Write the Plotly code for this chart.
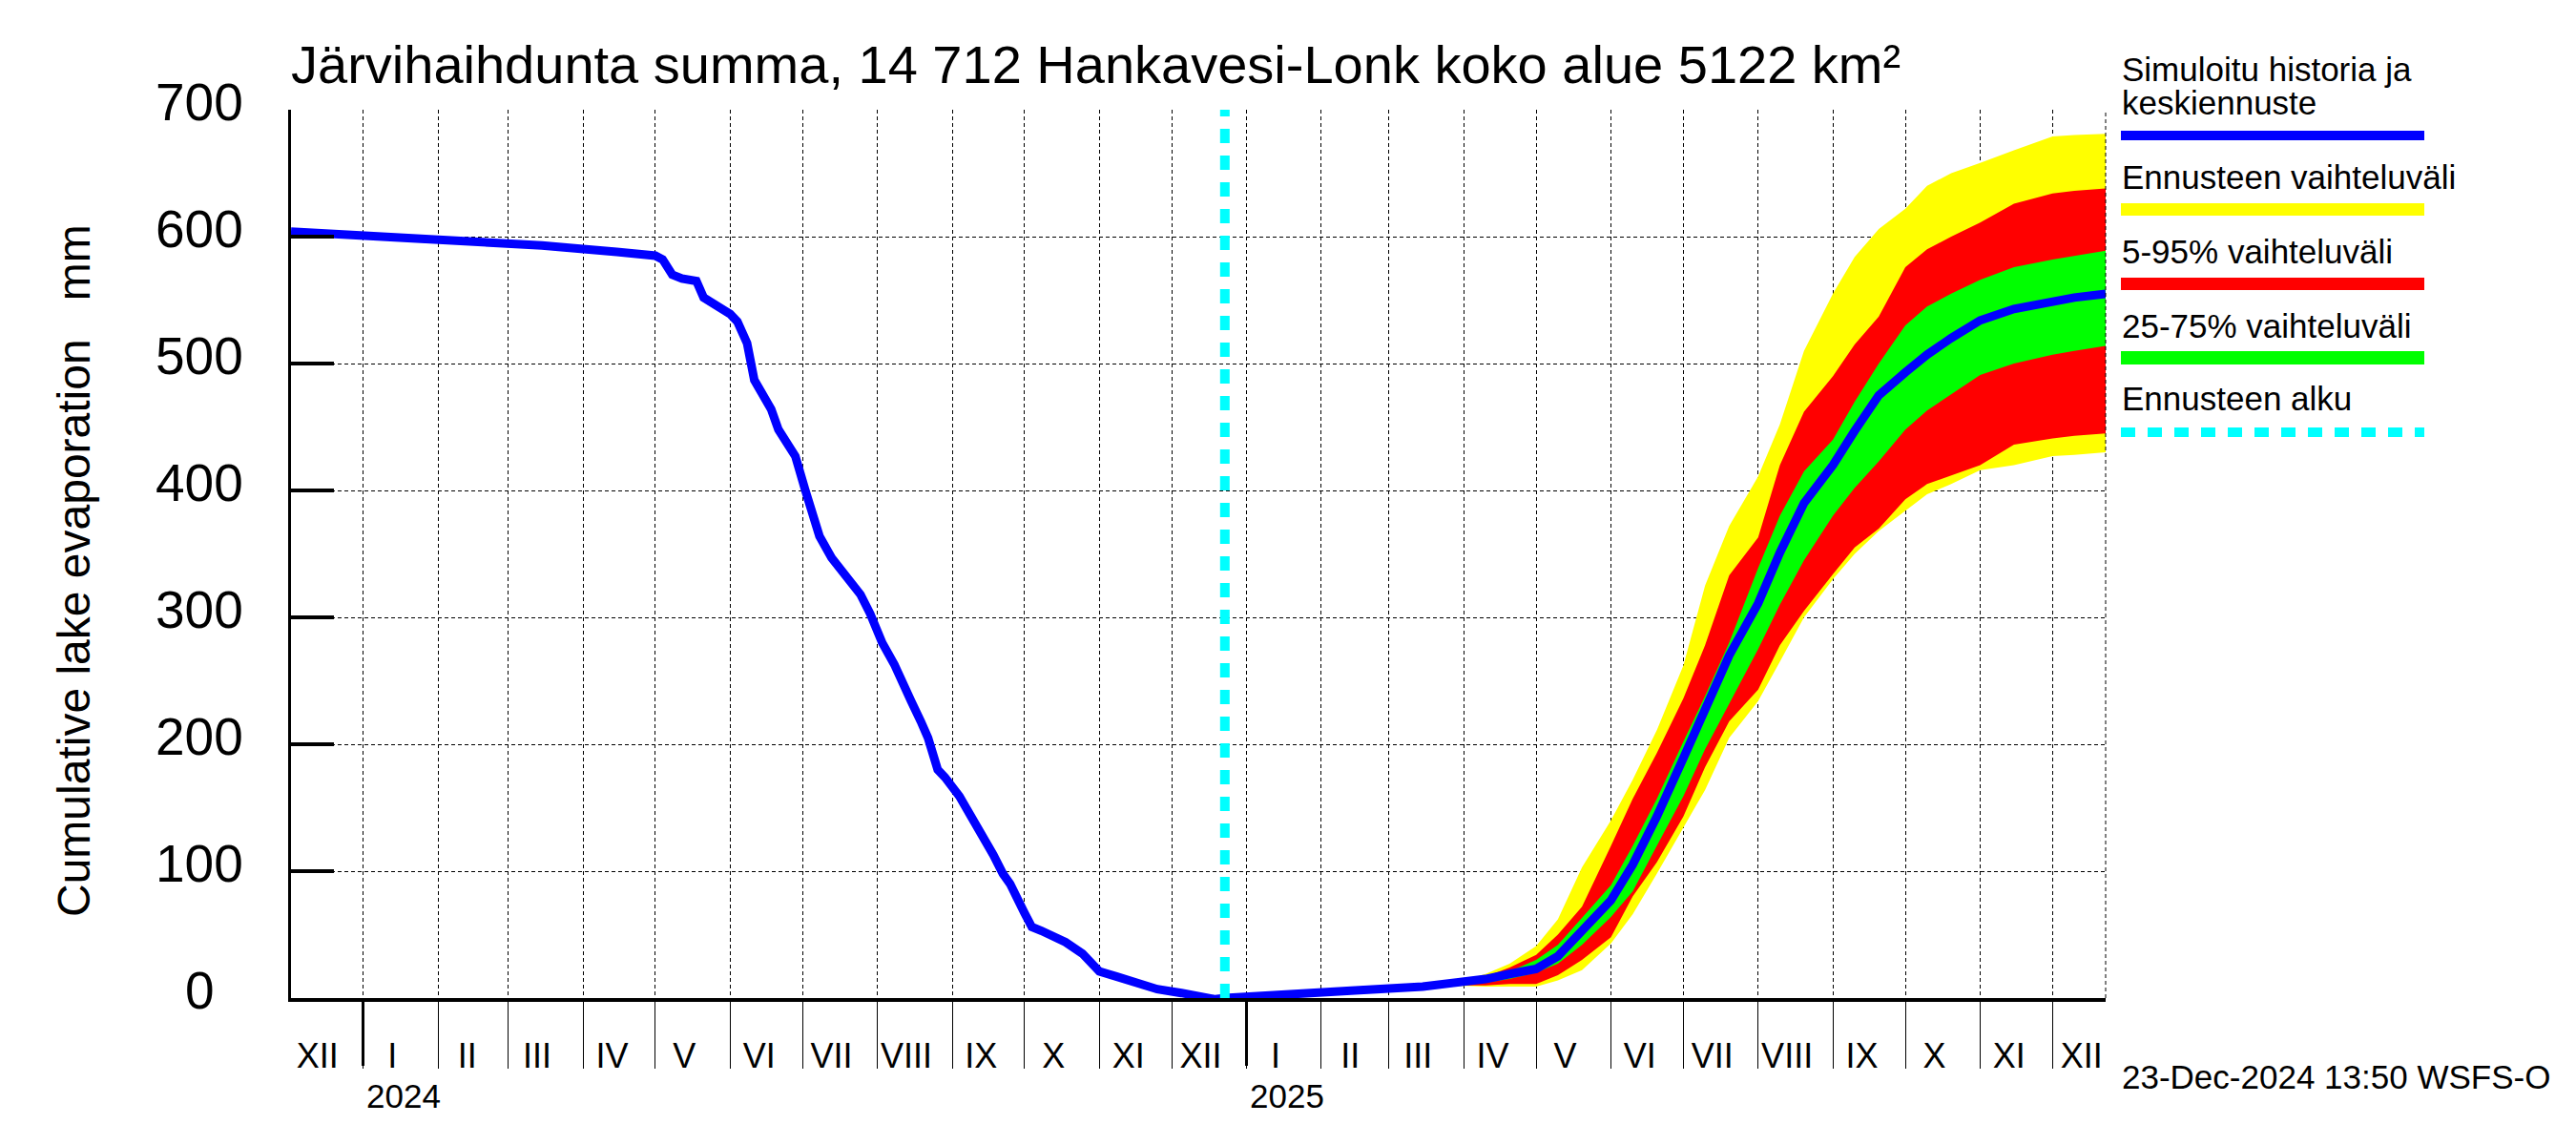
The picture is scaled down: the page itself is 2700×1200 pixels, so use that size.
import plotly.graph_objects as go
import pandas as pd

# ---------------- data ----------------
TITLE = "Järvihaihdunta summa, 14 712 Hankavesi-Lonk koko alue 5122 km²"
Y_TITLE = "Cumulative lake evaporation\u00a0\u00a0\u00a0mm"
STAMP = "23-Dec-2024 13:50 WSFS-O"
FORECAST_START = "2024-12-23"
X_RANGE = ["2023-12-02", "2025-12-23"]
Y_RANGE = [0, 700]
Y_TICKS = [0, 100, 200, 300, 400, 500, 600, 700]
Y_TICK_LABELS = ["0", "100", "200", "300", "400", "500", "600", "700"]
MONTH_LABELS = ["I", "II", "III", "IV", "V", "VI", "VII", "VIII", "IX", "X", "XI", "XII"]
YEARS = ["2024", "2025"]

LEGEND_LABELS = ["Simuloitu historia ja", "keskiennuste", "Ennusteen vaihteluväli",
                 "5-95% vaihteluväli", "25-75% vaihteluväli", "Ennusteen alku"]

hist_dates = ["2023-12-02", "2024-01-15", "2024-02-15", "2024-03-15", "2024-04-15",
              "2024-05-01", "2024-05-04", "2024-05-08", "2024-05-12", "2024-05-18",
              "2024-05-21", "2024-06-01", "2024-06-04", "2024-06-08", "2024-06-11",
              "2024-06-15", "2024-06-18", "2024-06-21", "2024-06-23", "2024-06-28",
              "2024-07-02", "2024-07-05", "2024-07-08", "2024-07-13", "2024-07-19",
              "2024-07-25", "2024-07-29", "2024-08-03", "2024-08-08", "2024-08-12",
              "2024-08-15", "2024-08-19", "2024-08-22", "2024-08-26", "2024-08-29",
              "2024-09-04", "2024-09-08", "2024-09-11", "2024-09-15", "2024-09-18",
              "2024-09-22", "2024-09-25", "2024-10-01", "2024-10-04", "2024-10-08",
              "2024-10-18", "2024-10-25", "2024-11-01", "2024-11-08", "2024-11-15",
              "2024-11-20", "2024-11-25", "2024-12-05", "2024-12-12", "2024-12-19",
              "2024-12-23"]
hist_vals = [604, 600, 597, 593, 588,
             585, 582, 570, 567, 565,
             552, 539, 533, 516, 487,
             472, 464, 448, 441, 427,
             401, 380, 364, 347, 332,
             318, 303, 280, 263, 245,
             234, 218, 205, 180, 174,
             159, 146, 136, 125, 113,
             98, 90, 67, 56, 53,
             44, 35, 21, 17, 13,
             9, 7, 4, 2, -1,
             0]

fc_dates = ["2024-12-23", "2025-01-15", "2025-02-15", "2025-03-15", "2025-04-01",
            "2025-04-10", "2025-04-20", "2025-05-01", "2025-05-10", "2025-05-20",
            "2025-06-01", "2025-06-10", "2025-06-20", "2025-07-01", "2025-07-10",
            "2025-07-20", "2025-08-01", "2025-08-10", "2025-08-20", "2025-09-01",
            "2025-09-10", "2025-09-20", "2025-10-01", "2025-10-10", "2025-10-20",
            "2025-11-01", "2025-11-15", "2025-12-01", "2025-12-10", "2025-12-23"]
fc_median = [0, 3, 6, 9, 12, 15, 19, 23, 33, 54, 77, 105, 143, 189, 226,
             270, 311, 351, 390, 420, 447, 475, 493, 507, 520, 534, 543, 549, 552, 555]
fc_max = [0, 3, 6, 10, 14, 19, 27, 41, 62, 103, 140, 172, 211, 262, 325,
          372, 411, 452, 510, 555, 584, 606, 622, 640, 650, 658, 668, 679, 680, 681]
fc_p95 = [0, 3, 6, 9.5, 13, 17, 24, 34, 50, 72, 120, 157, 193, 236, 278,
          333, 363, 420, 462, 490, 515, 537, 576, 590, 600, 611, 626, 634, 636, 638]
fc_p75 = [0, 3, 6, 9, 12.5, 16, 21, 30, 42, 63, 89, 120, 157, 202, 238,
          280, 339, 380, 415, 440, 470, 500, 530, 545, 555, 566, 576, 582, 585, 589]
fc_p25 = [0, 3, 6, 8.5, 11, 12, 15, 20, 27, 42, 64, 84, 120, 159, 196,
          232, 275, 310, 345, 380, 402, 423, 448, 463, 476, 491, 500, 507, 510, 514]
fc_p05 = [0, 3, 5.5, 8, 10, 10, 11, 11, 18, 30, 48, 80, 107, 143, 182,
          218, 243, 278, 305, 334, 355, 370, 393, 405, 412, 420, 436, 441, 443, 445]
fc_min = [0, 3, 5.5, 8, 9.5, 9, 9, 9, 14, 22, 43, 66, 98, 134, 164,
          205, 234, 265, 300, 330, 350, 368, 384, 397, 405, 416, 420, 427, 428, 430]

# ---------------- styling ----------------
BLUE, YELLOW, RED, GREEN, CYAN = "#0000FF", "#FFFF00", "#FF0000", "#00FF00", "#00FFFF"
FONT = "Liberation Sans, Arial, Helvetica, sans-serif"
OFF = 8  # default page margin of the html body
W, H = 2700 - OFF, 1200 - OFF
L, R, T, B = 305 - OFF, 2207 - OFF, 115 - OFF, 1046 - OFF


def xp(px):
    return (px - OFF - L) / (R - L)


def yp(py):
    return (B - (py - OFF)) / (B - T)


fig = go.Figure()


def band(lo, hi, color, name):
    fig.add_trace(go.Scatter(x=fc_dates, y=lo, mode="lines", line=dict(width=0, color=color),
                             showlegend=False, hoverinfo="skip"))
    fig.add_trace(go.Scatter(x=fc_dates, y=hi, mode="lines", line=dict(width=0, color=color),
                             fill="tonexty", fillcolor=color, name=name, showlegend=False))


band(fc_min, fc_max, YELLOW, LEGEND_LABELS[2])
band(fc_p05, fc_p95, RED, LEGEND_LABELS[3])
band(fc_p25, fc_p75, GREEN, LEGEND_LABELS[4])

fig.add_trace(go.Scatter(x=hist_dates + fc_dates[1:], y=hist_vals + fc_median[1:], mode="lines",
                         line=dict(color=BLUE, width=9), name=LEGEND_LABELS[0] + " " + LEGEND_LABELS[1],
                         showlegend=False))

# forecast start line
fig.add_trace(go.Scatter(x=[FORECAST_START, FORECAST_START], y=Y_RANGE, mode="lines",
                         line=dict(color=CYAN, width=10, dash="15px,13px"),
                         name=LEGEND_LABELS[5], showlegend=False))

# invisible trace for the year-tick axis
fig.add_trace(go.Scatter(x=X_RANGE, y=Y_RANGE, xaxis="x2", mode="lines",
                         line=dict(width=0), showlegend=False, hoverinfo="skip"))

# ---------------- axes ----------------
month_starts = pd.date_range("2023-12-01", "2025-12-01", freq="MS")
x0, x1 = pd.Timestamp(X_RANGE[0]), pd.Timestamp(X_RANGE[1])
label_pos = [m + pd.Timedelta(days=12) for m in month_starts]
label_txt = [MONTH_LABELS[m.month - 1] for m in month_starts]
grid_pos = [m for m in month_starts if x0 < m < x1]
year_pos = [pd.Timestamp(f"{y}-01-01") for y in YEARS]

fig.update_layout(
    width=W, height=H,
    margin=dict(l=L, r=W - R, t=T, b=H - B),
    paper_bgcolor="white", plot_bgcolor="white",
    font=dict(family=FONT, color="black"),
    showlegend=False,
    title=dict(text=TITLE, font=dict(size=56, family=FONT), xref="paper", x=0, xanchor="left",
               yref="container", y=1 - (67 - OFF) / H, yanchor="middle", pad=dict(l=0, t=0, b=0, r=0)),
    xaxis=dict(
        type="date", range=X_RANGE,
        tickmode="array", tickvals=label_pos, ticktext=label_txt,
        ticks="outside", ticklen=26, tickcolor="rgba(0,0,0,0)",
        tickfont=dict(size=36, family=FONT),
        showgrid=False, zeroline=False,
        showline=True, linecolor="black", linewidth=4,
        minor=dict(tickmode="array", tickvals=grid_pos, ticks="outside", ticklen=70,
                   tickwidth=1, tickcolor="black", showgrid=True, gridcolor="black",
                   gridwidth=1, griddash="4px,3px"),
    ),
    xaxis2=dict(
        type="date", range=X_RANGE, overlaying="x", anchor="y", side="bottom",
        tickmode="array", tickvals=year_pos, ticks="outside", ticklen=70, tickwidth=3,
        tickcolor="black", showticklabels=False, showgrid=False, zeroline=False, showline=False,
    ),
    yaxis=dict(
        range=Y_RANGE, tickmode="array", tickvals=Y_TICKS, showticklabels=False,
        ticks="inside", ticklen=45, tickwidth=4, tickcolor="black",
        showgrid=True, gridcolor="black", gridwidth=1, griddash="4px,3px",
        zeroline=False, showline=True, linecolor="black", linewidth=3,
    ),
)

ann = []
for v, t in zip(Y_TICKS, Y_TICK_LABELS):
    ann.append(dict(x=xp(209), xref="paper", y=v, yref="y", text=t, showarrow=False,
                    xanchor="center", yanchor="middle", yshift=8, font=dict(size=55, family=FONT)))
ann.append(dict(x=xp(77), xref="paper", y=yp(598), yref="paper", text=Y_TITLE, textangle=-90,
                showarrow=False, xanchor="center", yanchor="middle", font=dict(size=48, family=FONT)))
for yr, pos in zip(YEARS, year_pos):
    ann.append(dict(x=pos, xref="x", y=yp(1148), yref="paper", text=yr, showarrow=False,
                    xanchor="left", yanchor="middle", xshift=1, font=dict(size=35, family=FONT)))
ann.append(dict(x=xp(2222), xref="paper", y=yp(1128), yref="paper", text=STAMP, showarrow=False,
                xanchor="left", yanchor="middle", font=dict(size=35, family=FONT)))

# legend (text above line sample)
leg_text_y = [72, 107, 185, 263, 341, 417]
for t, ty in zip(LEGEND_LABELS, leg_text_y):
    ann.append(dict(x=xp(2222), xref="paper", y=yp(ty), yref="paper", text=t, showarrow=False,
                    xanchor="left", yanchor="middle", font=dict(size=35, family=FONT)))
fig.update_layout(annotations=ann)

shapes = []
for (ya, yb), col in zip([(137, 147), (213, 226), (291, 304), (368, 382)], [BLUE, YELLOW, RED, GREEN]):
    shapes.append(dict(type="rect", xref="paper", yref="paper", x0=xp(2223), x1=xp(2541),
                       y0=yp(yb), y1=yp(ya), fillcolor=col, line=dict(width=0)))
shapes.append(dict(type="line", xref="paper", yref="paper", x0=xp(2223), x1=xp(2541),
                   y0=yp(453), y1=yp(453), line=dict(color=CYAN, width=10, dash="15px,13px")))
# dashed right border of the plot
shapes.append(dict(type="line", xref="paper", yref="paper", x0=1, x1=1, y0=0, y1=1,
                   line=dict(color="black", width=1, dash="4px,3px")))
fig.update_layout(shapes=shapes)

fig.write_html("out.html")
